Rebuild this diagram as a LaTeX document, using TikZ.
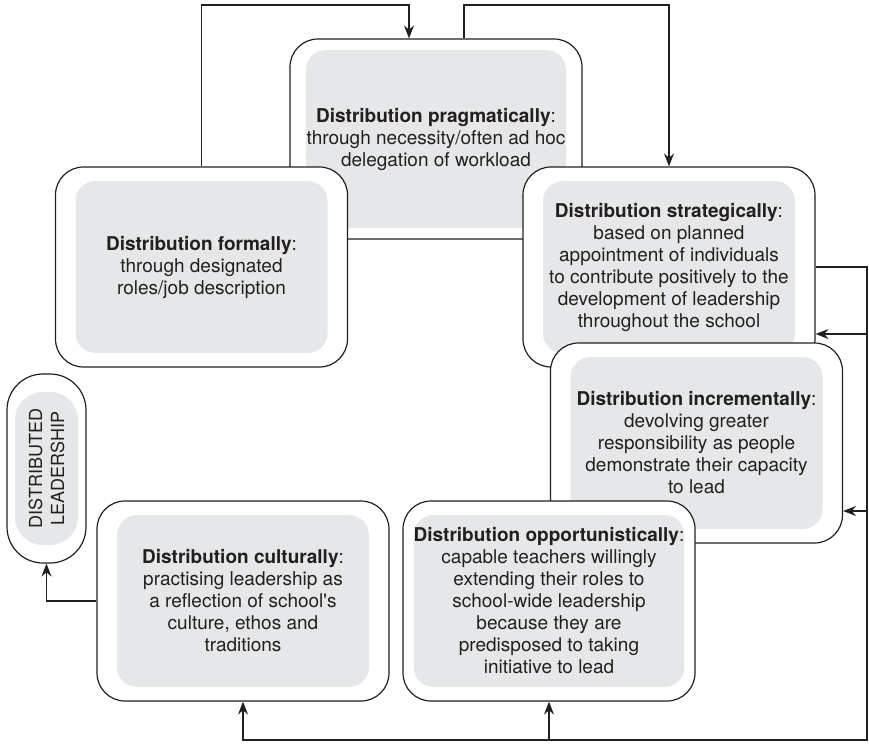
\documentclass[tikz,border=0pt]{standalone}
\usepackage{fontspec}
\setmainfont{TeX Gyre Heros}
\usetikzlibrary{arrows.meta}
\definecolor{boxgray}{RGB}{230,231,232}
\definecolor{ink}{RGB}{35,31,32}
\tikzset{
  outerbox/.style={draw=ink, fill=white, line width=0.6pt, rounded corners=14pt, minimum width=146pt, minimum height=100pt},
  graybox/.style={fill=boxgray, rounded corners=10pt, minimum width=126pt, minimum height=86pt, inner sep=0pt, align=center, text=ink, font=\fontsize{9.5}{11}\selectfont},
  link/.style={draw=ink, line width=0.6pt},
  arr/.style={link, -{Stealth[length=6.5pt,width=5pt,inset=2.2pt]}}
}
\begin{document}
\begin{tikzpicture}[x=0.5pt,y=-0.5pt]
\useasboundingbox (0,0) rectangle (869,744);
\coordinate (ceil) at (0,5); \coordinate (floor) at (0,740); \coordinate (rail) at (867,0);
% boxes, back to front
\node[outerbox] (prag) at (436,139) {};
\node[graybox, minimum width=130pt, minimum height=89pt] at (prag) {\textbf{Distribution pragmatically}:\\through necessity/often ad hoc\\delegation of workload};
\node[outerbox] (formal) at (201.5,267) {};
\node[graybox] at (formal) {\textbf{Distribution formally}:\\through designated\\roles/job description};
\node[outerbox] (strat) at (669,267) {};
\node[graybox] at (strat) {\textbf{Distribution strategically}:\\based on planned\\appointment of individuals\\to contribute positively to the\\development of leadership\\throughout the school};
\node[outerbox] (incr) at (696.5,443) {};
\node[graybox] at (incr) {\textbf{Distribution incrementally}:\\devolving greater\\responsibility as people\\demonstrate their capacity\\to lead};
\node[outerbox] (opp) at (549,601) {};
\node[graybox, minimum width=135pt] at (opp) {\textbf{Distribution opportunistically}:\\capable teachers willingly\\extending their roles to\\school-wide leadership\\because they are\\predisposed to taking\\initiative to lead};
\node[outerbox] (cult) at (243,601) {};
\node[graybox] at (cult) {\textbf{Distribution culturally}:\\practising leadership as\\a reflection of school\textquotesingle s\\culture, ethos and\\traditions};
\node[outerbox, rounded corners=18pt, minimum width=39.5pt, minimum height=94.5pt] (dl) at (46.5,468.5) {};
\node[graybox, rounded corners=14pt, minimum width=76.5pt, minimum height=31.5pt, rotate=90, font=\fontsize{9}{11}\selectfont] at (dl) {DISTRIBUTED\\LEADERSHIP};
% connectors
\coordinate (pragin) at ([xshift=-13.5pt]prag.north);
\coordinate (pragout) at ([xshift=14pt]prag.north);
\coordinate (stratin) at ([yshift=-33.5pt]strat.east);
\coordinate (incrin) at ([yshift=-34pt]incr.east);
\draw[arr] (formal.north) |- (ceil -| pragin) -- (pragin);
\draw[arr] (pragout) |- (ceil -| strat.north) -- (strat.north);
\draw[arr] (strat.east) -| (rail |- floor) -| (cult.south);
\draw[arr] (floor -| opp.south) -- (opp.south);
\draw[arr] (rail |- stratin) -- (stratin);
\draw[arr] (rail |- incrin) -- (incrin);
\draw[arr] (cult.west) -| (dl.south);
\end{tikzpicture}
\end{document}
